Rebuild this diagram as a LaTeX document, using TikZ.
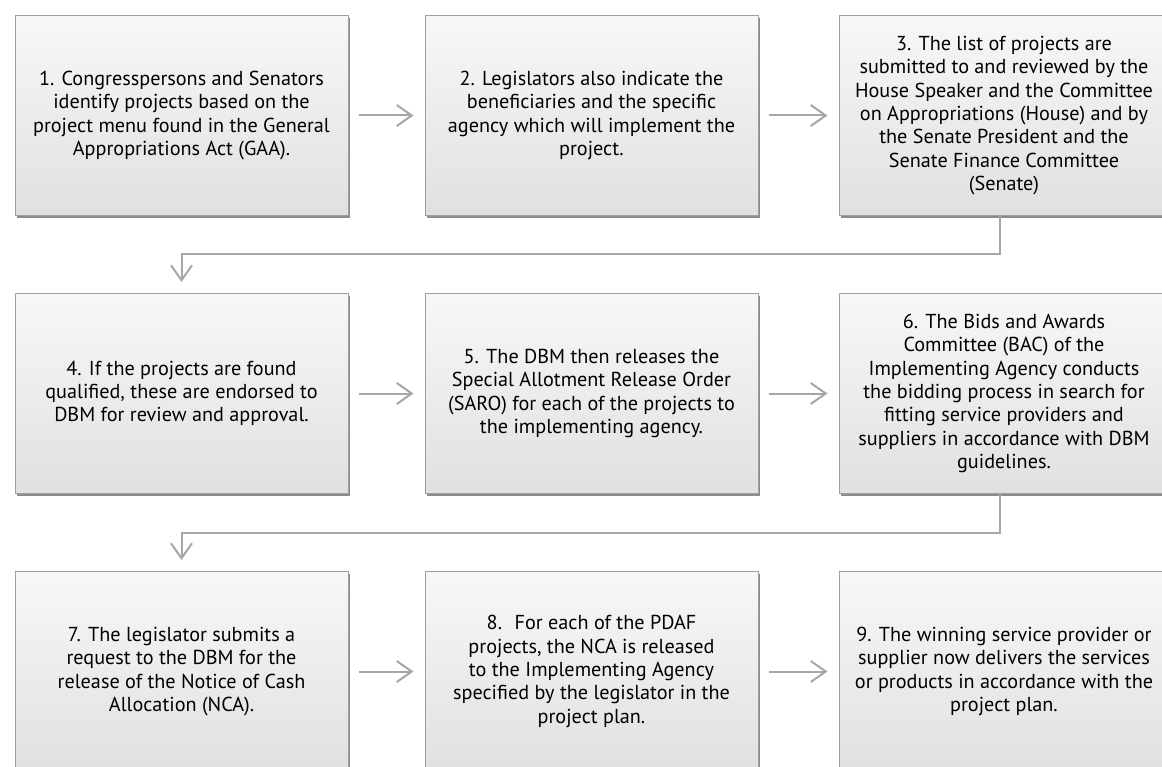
\documentclass[tikz,border=0pt]{standalone}
\usepackage{fontspec}
\setmainfont{PT Sans}
\usetikzlibrary{positioning,arrows.meta,shadows}
\tikzset{
  >={Straight Barb[length=15pt,width=21pt]},
  node distance=77pt and 76pt,
  procbox/.style={draw=black!38, line width=1pt,
    top color=black!3, bottom color=black!12,
    minimum width=333pt, minimum height=200pt,
    align=center, inner sep=6pt,
    font=\fontsize{20.2}{23.3}\selectfont,
    drop shadow={shadow xshift=1.5pt, shadow yshift=-2.5pt,
      opacity=0.6, fill=black!75}},
  lastcol/.style={procbox, minimum width=330pt},
  flowarrow/.style={->, draw=black!35, line width=2pt,
    shorten <=10pt, shorten >=11pt},
}
\begin{document}
\begin{tikzpicture}
\path[use as bounding box, clip] (0,0) rectangle (1162pt,-767pt);

% first row
\node[procbox] (s1) at (181.5pt,-115.5pt)
  {1. Congresspersons and Senators\\ identify projects based on the\\
   project menu found in the General\\ Appropriations Act (GAA).};
\node[procbox, right=of s1] (s2)
  {2. Legislators also indicate the\\ beneficiaries and the specific\\
   agency which will implement the\\ project.};
\node[lastcol, right=80pt of s2] (s3)
  {3. The list of projects are\\ submitted to and reviewed by the\\
   House Speaker and the Committee\\ on Appropriations (House) and by\\
   the Senate President and the\\ Senate Finance Committee\\ (Senate)};

% second row
\node[procbox, below=of s1] (s4)
  {4. If the projects are found\\ qualified, these are endorsed to\\
   DBM for review and approval.};
\node[procbox, right=of s4] (s5)
  {5. The DBM then releases the\\ Special Allotment Release Order\\
   (SARO) for each of the projects to\\ the implementing agency.};
\node[lastcol, right=80pt of s5] (s6)
  {6. The Bids and Awards\\ Committee (BAC) of the\\
   Implementing Agency conducts\\ the bidding process in search for\\
   fitting service providers and\\ suppliers in accordance with DBM\\
   guidelines.};

% third row
\node[procbox, below=of s4] (s7)
  {7. The legislator submits a\\ request to the DBM for the\\
   release of the Notice of Cash\\ Allocation (NCA).};
\node[procbox, right=of s7] (s8)
  {8.~ For each of the PDAF\\ projects, the NCA is released\\
   to the Implementing Agency\\ specified by the legislator in the\\
   project plan.};
\node[lastcol, right=80pt of s8] (s9)
  {9. The winning service provider or\\ supplier now delivers the services\\
   or products in accordance with the\\ project plan.};

% arrows along the rows
\foreach \a/\b in {s1/s2,s2/s3,s4/s5,s5/s6,s7/s8,s8/s9}
  \draw[flowarrow] (\a) -- (\b);

% bends down to the next row
\draw[flowarrow, shorten <=0pt] ([xshift=-4pt]s3.south) -- ++(0,-38.5pt) -| (s4.north);
\draw[flowarrow, shorten <=0pt] ([xshift=-4pt]s6.south) -- ++(0,-38.5pt) -| (s7.north);
\end{tikzpicture}
\end{document}
